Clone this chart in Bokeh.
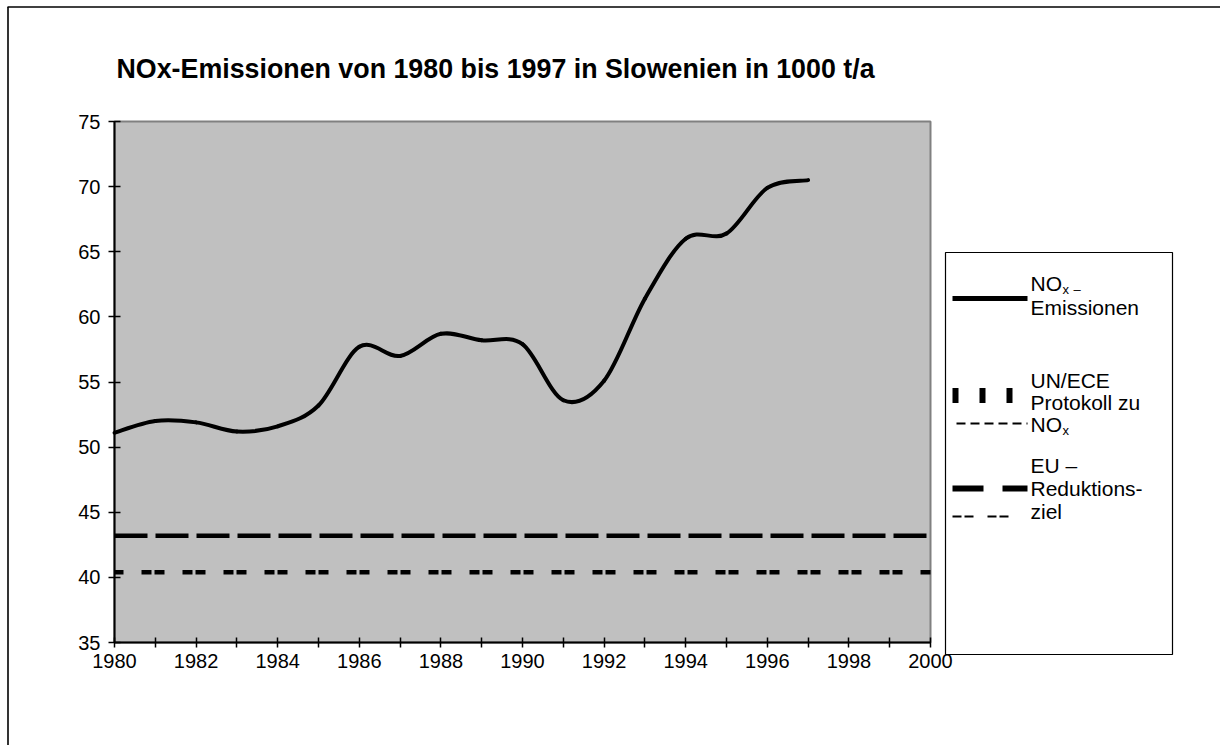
from bokeh.plotting import figure
from bokeh.models import FixedTicker, Range1d
from bokeh.core.properties import value
from bokeh.embed import file_html
from bokeh.resources import INLINE

# ---------------- data ----------------
YEARS = [1980, 1981, 1982, 1983, 1984, 1985, 1986, 1987, 1988, 1989,
         1990, 1991, 1992, 1993, 1994, 1995, 1996, 1997]
NOX = [51.1, 52.0, 51.9, 51.2, 51.6, 53.2, 57.7, 57.0, 58.7, 58.2,
       57.9, 53.6, 55.1, 61.4, 66.0, 66.4, 69.9, 70.5]
UNECE_TARGET = 40.4
EU_TARGET = 43.2
TARGET_SPAN = [1980, 2000]
X_TICKS = list(range(1980, 2001))
X_LABELED = list(range(1980, 2001, 2))
Y_TICKS = [35, 40, 45, 50, 55, 60, 65, 70, 75]
TITLE = "NOx-Emissionen von 1980 bis 1997 in Slowenien in 1000 t/a"

FONT = "Liberation Sans"

# ---------------- geometry (pixel layout of the page) ----------------
W, H = 1220, 745
ORIG_X, ORIG_Y = 0, 0          # page offset of the canvas (template has no body margin)
FR_L, FR_T = 114, 121          # pixel of (1980, 75)
FR_R, FR_B = 930, 642          # pixel of (2000, 35)
XPPU = (FR_R - FR_L) / 20.0
YPPU = (FR_B - FR_T) / 40.0


def dx(px):
    return 1980 + (px - FR_L) / XPPU


def dy(py):
    return 75 - (py - FR_T) / YPPU


p = figure(width=W, height=H, output_backend="svg", toolbar_location=None,
           x_range=Range1d(dx(ORIG_X), dx(ORIG_X + W)),
           y_range=Range1d(dy(ORIG_Y + H), dy(ORIG_Y)),
           min_border_left=0, min_border_right=0, min_border_top=0,
           min_border_bottom=0)
p.outline_line_color = None
p.background_fill_color = "white"
p.border_fill_color = "white"
p.grid.visible = False

# outer page border (left and top edges)
p.segment(x0=[dx(7.5), dx(7)], y0=[dy(6.5), dy(6.5)],
          x1=[dx(7.5), dx(ORIG_X + W)], y1=[dy(ORIG_Y + H), dy(6.5)],
          line_color="black", line_width=1.6)

# plot area
p.quad(left=[TARGET_SPAN[0]], right=[TARGET_SPAN[1]], bottom=[Y_TICKS[0]], top=[Y_TICKS[-1]],
       fill_color="#C0C0C0", line_color="#808080", line_width=2)

# axes
xa = p.xaxis[0]
xa.fixed_location = Y_TICKS[0]
xa.bounds = (TARGET_SPAN[0], TARGET_SPAN[1])
xa.ticker = FixedTicker(ticks=X_TICKS)
xa.major_label_overrides = {t: (str(t) if t in X_LABELED else "") for t in X_TICKS}
xa.minor_tick_line_color = None
xa.major_tick_in = 5
xa.major_tick_out = 5
xa.axis_line_color = "black"
xa.axis_line_width = 2
xa.major_tick_line_color = "black"
xa.major_tick_line_width = 1.5
xa.major_label_text_font = FONT
xa.major_label_text_font_size = "20px"
xa.major_label_text_color = "black"
xa.major_label_standoff = 6

ya = p.yaxis[0]
ya.fixed_location = TARGET_SPAN[0]
ya.bounds = (Y_TICKS[0], Y_TICKS[-1])
ya.ticker = FixedTicker(ticks=Y_TICKS)
ya.minor_tick_line_color = None
ya.major_tick_in = 6
ya.major_tick_out = 6
ya.axis_line_color = "black"
ya.axis_line_width = 2
ya.major_tick_line_color = "black"
ya.major_tick_line_width = 1.5
ya.major_label_text_font = FONT
ya.major_label_text_font_size = "20px"
ya.major_label_text_color = "black"
ya.major_label_standoff = 8

# target lines
p.line(TARGET_SPAN, [EU_TARGET, EU_TARGET], line_color="black", line_width=4.5,
       line_dash="33 8", line_cap="butt")
p.line(TARGET_SPAN, [UNECE_TARGET, UNECE_TARGET], line_color="black", line_width=4.5,
       line_dash="10 3 10 18", line_dash_offset=14, line_cap="butt")

# smoothed emission curve (Bezier segments through the data points)
n = len(YEARS)
x0, y0, x1, y1, cx0, cy0, cx1, cy1 = [], [], [], [], [], [], [], []
for i in range(n - 1):
    pa = (YEARS[max(i - 1, 0)], NOX[max(i - 1, 0)])
    pb = (YEARS[i], NOX[i])
    pc = (YEARS[i + 1], NOX[i + 1])
    pd = (YEARS[min(i + 2, n - 1)], NOX[min(i + 2, n - 1)])
    x0.append(pb[0]); y0.append(pb[1]); x1.append(pc[0]); y1.append(pc[1])
    cx0.append(pb[0] + (pc[0] - pa[0]) / 6.0); cy0.append(pb[1] + (pc[1] - pa[1]) / 6.0)
    cx1.append(pc[0] - (pd[0] - pb[0]) / 6.0); cy1.append(pc[1] - (pd[1] - pb[1]) / 6.0)
p.bezier(x0=x0, y0=y0, x1=x1, y1=y1, cx0=cx0, cy0=cy0, cx1=cx1, cy1=cy1,
         line_color="black", line_width=4, line_cap="round")

# title
p.text(x=[dx(116)], y=[dy(68)], text=[TITLE], text_font=value(FONT),
       text_font_size="26.8px", text_font_style="bold", text_color="black",
       text_align="left", text_baseline="middle")

# legend box
p.quad(left=[dx(945)], right=[dx(1172)], top=[dy(252)], bottom=[dy(654)],
       fill_color="white", line_color="black", line_width=1.2)

# legend samples
p.line([dx(952), dx(1027)], [dy(298)] * 2, line_color="black", line_width=5)
p.line([dx(952), dx(1013)], [dy(395)] * 2, line_color="black", line_width=15,
       line_dash="6 21", line_cap="butt")
p.line([dx(956), dx(1027)], [dy(423)] * 2, line_color="black", line_width=2,
       line_dash="9 5", line_cap="butt")
p.line([dx(952), dx(1027)], [dy(488)] * 2, line_color="black", line_width=6,
       line_dash="31 19", line_cap="butt")
p.line([dx(952), dx(1010)], [dy(516)] * 2, line_color="black", line_width=2,
       line_dash="9 3 9 14", line_cap="butt")

# legend texts
LEG_X = 1030
leg_lines = [("NO", 283), ("Emissionen", 307), ("UN/ECE", 380), ("Protokoll zu", 402),
             ("NO", 424), ("EU \u2013", 465), ("Reduktions-", 488), ("ziel", 511)]
p.text(x=[dx(LEG_X)] * len(leg_lines), y=[dy(t[1]) for t in leg_lines],
       text=[t[0] for t in leg_lines], text_font=value(FONT), text_font_size="21px",
       text_color="black", text_align="left", text_baseline="middle")
p.text(x=[dx(LEG_X + 32), dx(LEG_X + 32)], y=[dy(289), dy(430)], text=["x", "x"],
       text_font=value(FONT), text_font_size="13px", text_color="black",
       text_align="left", text_baseline="middle")
p.text(x=[dx(LEG_X + 43)], y=[dy(289)], text=["\u2013"],
       text_font=value(FONT), text_font_size="13px", text_color="black",
       text_align="left", text_baseline="middle")

open("out.html", "w").write(file_html(p, INLINE))
